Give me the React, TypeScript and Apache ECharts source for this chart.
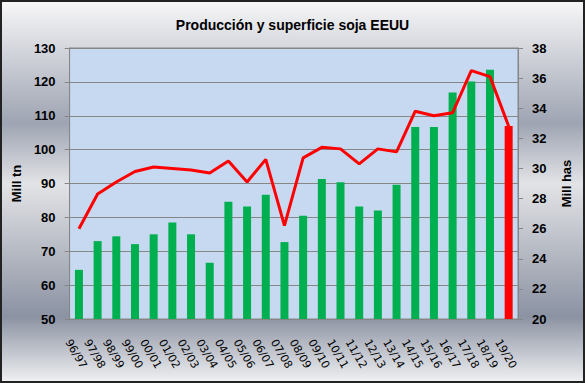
import React, { useEffect, useRef } from "react";
import * as echarts from "echarts";

const campaigns = ["96/97","97/98","98/99","99/00","00/01","01/02","02/03","03/04","04/05","05/06","06/07","07/08","08/09","09/10","10/11","11/12","12/13","13/14","14/15","15/16","16/17","17/18","18/19","19/20"];
const produccion = [64.5,73.0,74.4,72.1,75.0,78.5,75.0,66.6,84.6,83.2,86.7,72.7,80.5,91.3,90.4,83.2,82.0,89.6,106.7,106.7,116.9,120.1,123.6,107.0];
const superficie = [26.0,28.3,29.1,29.8,30.1,30.0,29.9,29.7,30.5,29.1,30.6,26.2,30.7,31.4,31.3,30.3,31.3,31.1,33.8,33.5,33.7,36.5,36.1,32.8];

export default function App() {
  const ref = useRef<HTMLDivElement>(null);
  useEffect(() => {
    document.body.style.margin = "0";
    const chart = echarts.init(ref.current!, null, { renderer: "svg" });
    const last = produccion.length - 1;
    chart.setOption({
      animation: false,
      backgroundColor: new echarts.graphic.LinearGradient(0, 0, 0, 1, [
        { offset: 0, color: "#f6f6f7" },
        { offset: 0.32, color: "#9ea4b2" },
        { offset: 0.48, color: "#e2e3e6" },
        { offset: 0.83, color: "#8b92a2" },
        { offset: 1, color: "#eeeff1" },
      ]),
      title: {
        text: "Producción y superficie soja EEUU",
        left: "center",
        top: 11,
        textStyle: { fontFamily: "Liberation Sans", fontWeight: "bold", fontSize: 14, color: "#000" },
      },
      grid: {
        left: 61, right: 65, top: 46, bottom: 62,
        show: true, backgroundColor: "#c6d9f1", borderColor: "#868686", borderWidth: 1,
      },
      xAxis: {
        type: "category",
        data: campaigns,
        axisTick: { show: false },
        axisLine: { lineStyle: { color: "#868686" } },
        axisLabel: {
          rotate: -60, fontFamily: "DejaVu Sans", fontSize: 11, color: "#000", margin: 15, interval: 0,
          verticalAlign: "top", lineHeight: 13, padding: [6, 0, 0, 0],
        },
      },
      yAxis: [
        {
          type: "value", min: 50, max: 130, interval: 10,
          name: "Mill tn", nameLocation: "middle", nameGap: 40, nameRotate: 90,
          nameTextStyle: { fontFamily: "Liberation Sans", fontWeight: "bold", fontSize: 13, color: "#000" },
          axisLine: { show: true, lineStyle: { color: "#868686" } },
          axisTick: { show: true, length: 5, lineStyle: { color: "#868686" } },
          axisLabel: { fontFamily: "Liberation Sans", fontWeight: "bold", fontSize: 13, color: "#000", margin: 14 },
          splitLine: { lineStyle: { color: "#868686", width: 1 } },
        },
        {
          type: "value", min: 20, max: 38, interval: 2,
          name: "Mill has", nameLocation: "middle", nameGap: 42, nameRotate: 90,
          nameTextStyle: { fontFamily: "Liberation Sans", fontWeight: "bold", fontSize: 13, color: "#000" },
          axisLine: { show: true, lineStyle: { color: "#868686" } },
          axisTick: { show: true, length: 5, lineStyle: { color: "#868686" } },
          axisLabel: { fontFamily: "Liberation Sans", fontWeight: "bold", fontSize: 13, color: "#000", margin: 14 },
          splitLine: { show: false },
        },
      ],
      series: [
        {
          type: "bar",
          yAxisIndex: 0,
          barWidth: 8,
          data: produccion.map((v, i) => ({ value: v, itemStyle: { color: i === last ? "#ff0000" : "#00b050" } })),
        },
        {
          type: "line",
          yAxisIndex: 1,
          data: superficie,
          showSymbol: false,
          symbol: "none",
          lineStyle: { color: "#ff0000", width: 3 },
          z: 3,
        },
      ],
    });
    return () => chart.dispose();
  }, []);
  return (
    <div
      ref={ref}
      style={{ position: "absolute", left: 0, top: 0, width: 585, height: 383, boxSizing: "border-box", border: "2px solid #222" }}
    />
  );
}
